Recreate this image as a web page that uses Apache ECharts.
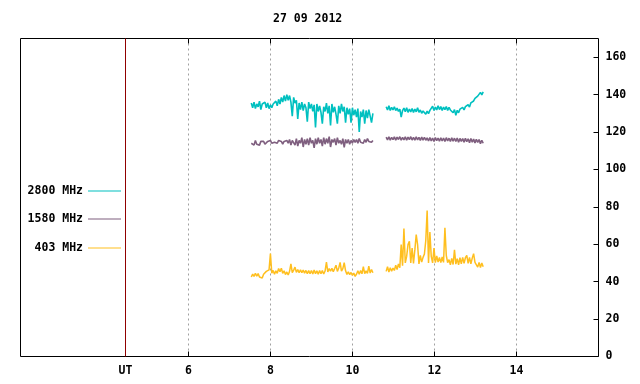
<!DOCTYPE html>
<html><head><meta charset="utf-8">
<script src="https://cdn.jsdelivr.net/npm/echarts@6/dist/echarts.min.js"></script>
<style>html,body{margin:0;padding:0;background:#fff}#c{width:640px;height:384px}</style>
</head><body><div id="c"></div>
<script>
const chartTitle = '27 09 2012';
const xTickValues = [6, 8, 10, 12, 14];
const utPosition = 4.46;
const utLabel = 'UT';
const yTickValues = [0, 20, 40, 60, 80, 100, 120, 140, 160];
const seriesNames = ['2800 MHz', '1580 MHz', '403 MHz'];
const seg1Start = 7.53;   // hours UT
const seg2Start = 10.82;  // hours UT
const sampleStep = 1 / 30; // 2 minutes

const f2800a = [135.5,133,136,132.5,135,133.5,136.5,132,135,134,136,
133,135.5,132.5,134.5,133,135,134,
136.5,134,137.5,135,138.5,136,139.5,136.5,140,137,
139.5,136,128.5,138.5,135.5,
137,127,135.5,132,136,131.5,135,133,125.5,136,132.5,135,131,
134.5,122.5,135,131,134,130.5,124.5,133.5,131,
135.5,130,134,123.5,135,130.5,133.5,129.5,124.5,134,130,135,131,133.5,125,
133,129.5,132.5,125,133,129,132,
128,132.5,120,131,128,132,124.5,131.5,127.5,132,128.5,125,130];
const f2800b = [133.5,131.8,134,131.5,133.2,131.8,133.5,131.5,132.8,
131,132.3,128,131.5,
132.8,130.8,133,130.5,132.3,130.8,132.6,130.5,132.3,130.8,133,130.5,131.8,130,131.3,
131.6,129.5,131.2,129.8,131.6,
132,133.8,131.5,133.3,131.8,134,132,133.6,131.5,133.3,132,133.6,131.5,133.2,131.8,
131.6,130.3,132,129,131.6,130.3,132.2,
131.3,133.2,131.8,133.6,133,
134.6,133.4,135.6,134.8,
136.6,138,137.4,139.2,
139.4,141.2,139.8,141.5];
const f1580a = [114,115,113,115.5,113.5,114.5,113,115,114,115,113.5,
114.5,115,114,115.5,114,115,114.5,115,114,115.5,114.5,115,113.5,115,114,115.5,114,116,113,115.5,
116,113,116.5,112.5,115.5,114,117,112,116,113.5,
116.5,113,117,114,115.5,111.5,116.5,113.5,117,114,
116,112.5,117,113.5,116.5,114,117.5,112,116,114.5,
116.5,113,117,114,115.5,113.5,116.5,111.8,116,114,
116,113.5,115.5,114,116,
114.5,116,114,116.5,114.5,115.5,114,116,114.5,116.5,115,116,114.5,115.5];
const f1580b = [117.3,115.8,117.5,115.6,117.2,115.9,117.4,115.7,117.3,116,
117.5,115.6,117.2,115.8,117.4,115.6,117.3,115.9,117.5,115.7,
117.2,115.6,117.4,115.8,117.1,115.5,117.3,115.7,117.2,115.6,
116.9,115.2,117,115.3,116.8,115,117,115.4,116.7,115.1,
116.9,115.2,116.8,114.9,117,115.2,116.7,115,116.9,115.1,
116.7,114.9,116.8,114.5,116.6,115,116.5,114.6,116.6,114.8,
116.4,114.3,116.5,114.6,116.2,114.2,116.1,114.5,116,113.8,115.6,114];
const f403a = [42.5,44,42.8,44.5,43,44.3,
42.5,43.5,42,44,
43.8,45.5,44.8,46.3,
55,
44.5,46,44,45.8,44.5,
47,45.3,47.2,
44.5,45.8,43.8,45.2,43.6,45.5,
49.5,
44.8,46.2,47.8,45,46.5,44.8,46.3,44.8,46.2,44.6,
46,44.3,45.9,44.2,46,44.1,46.2,44.3,45.8,44,46,44.2,45.9,44.1,45.7,
50.5,
45.2,47,45.6,47.2,45.3,47,48.8,45.5,47.3,50.3,45.6,47,50.2,
45.8,43.9,45.2,43.8,44.9,43.4,44.6,42.8,
44,45.8,44,46,44.2,48,44.3,45.8,44.5,48.3,44.6,46.5,44.8];
const f403b = [45.5,48,45.2,47.5,45.6,47.3,
46,48.8,46.5,49.5,47.5,
59.8,48.5,68.4,50,
53.5,59.8,61.6,50,58,49.8,57,65.2,59.8,
49.5,54,50.5,53,54.8,
62,78,50,66.6,53.5,
50,58,50.2,53.8,50.5,
53,50.2,53.2,50.3,68.8,54,50.2,
51.8,49,52.5,49.2,57,49.4,52.3,49,
52.8,49.6,53,49.8,52.8,54,49.8,53,49.5,52.6,55,50.3,
50.5,47.8,50.3,47.6,50,48];

const colors = ['#00c0c0', '#7f5f7f', '#ffbf1f'];
const lineWidths = [1.6, 1.6, 1.5];
const FONT = 'DejaVu Sans Mono';

function segment(start, vals) {
  return vals.map((v, i) => [start + i * sampleStep, v]);
}
function joined(a, b) {
  const endA = seg1Start + (a.length - 1) * sampleStep;
  return segment(seg1Start, a).concat([[(endA + seg2Start) / 2, '-']], segment(seg2Start, b));
}
const seriesData = [joined(f2800a, f2800b), joined(f1580a, f1580b), joined(f403a, f403b)];

const txt = { fontFamily: FONT, fontWeight: 'bold', fontSize: 11.5, color: '#000' };

const legendTops = [185, 213, 242];
const option = {
  animation: false,
  backgroundColor: '#fff',
  title: { text: chartTitle, left: 273, top: 13, padding: 0, textStyle: txt },
  legend: seriesNames.map((n, i) => ({
    data: [n], orient: 'vertical', align: 'right', right: 519, top: legendTops[i], padding: 0,
    icon: 'rect', itemWidth: 33, itemHeight: 1, textStyle: txt, selectedMode: false
  })),
  grid: { left: 20.5, right: 41.5, top: 38.5, bottom: 27.5, show: true, borderColor: '#000', borderWidth: 1 },
  xAxis: [{
    type: 'value', min: 1.9, max: 16, position: 'bottom',
    axisLine: { show: false },
    axisTick: { inside: true, length: 5, customValues: xTickValues, lineStyle: { color: '#000' } },
    axisLabel: { customValues: [utPosition].concat(xTickValues), margin: 9, ...txt,
      formatter: v => Math.abs(v - utPosition) < 1e-6 ? utLabel : String(v) },
    splitLine: { show: true, lineStyle: { color: '#a0a0a0', type: [2, 3], width: 1 } }
  }, {
    type: 'value', min: 1.9, max: 16, position: 'top',
    axisLine: { show: false },
    axisTick: { inside: true, length: 5, customValues: xTickValues, lineStyle: { color: '#000' } },
    axisLabel: { show: false }, splitLine: { show: false }
  }],
  yAxis: {
    type: 'value', min: 0, max: 170, position: 'right',
    axisLine: { show: false },
    axisTick: { inside: true, length: 5, customValues: yTickValues, lineStyle: { color: '#000' } },
    axisLabel: { customValues: yTickValues, margin: 7, ...txt },
    splitLine: { show: false }
  },
  series: seriesNames.map((n, i) => ({
    name: n, type: 'line', xAxisIndex: 0, data: seriesData[i], showSymbol: false, symbol: 'none',
    connectNulls: false,
    lineStyle: { color: colors[i], width: lineWidths[i] }, itemStyle: { color: colors[i] },
    markLine: i === 0 ? {
      silent: true, symbol: ['none', 'none'], label: { show: false }, animation: false,
      lineStyle: { color: '#900000', type: 'solid', width: 1 },
      data: [{ xAxis: utPosition }]
    } : undefined
  }))
};
const chart = echarts.init(document.getElementById('c'));
chart.setOption(option);
</script></body></html>
